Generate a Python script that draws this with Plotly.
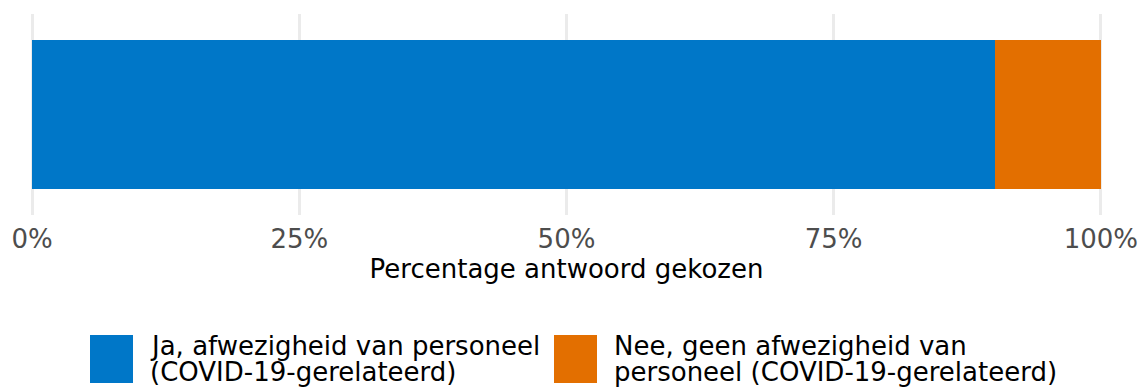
import plotly.graph_objects as go

categories = ["Afwezigheid personeel"]
series_names = ["Ja, afwezigheid van personeel",
                "Nee, geen afwezigheid van"]
series_names_line2 = ["(COVID-19-gerelateerd)",
                      "personeel (COVID-19-gerelateerd)"]
series_values = [[90.1], [9.9]]
series_colors = ["#0077C8", "#E36F00"]
tick_vals = [0, 25, 50, 75, 100]
tick_labels = ["0%", "25%", "50%", "75%", "100%"]
axis_title = "Percentage antwoord gekozen"

FONT = "Verdana, DejaVu Sans, sans-serif"
FS = 26

W, H = 1140, 388
PL, PR, PT, PB = 30, 1103, 14, 215  # plot area in pixels


def py(ypx):
    return (PB - ypx) / (PB - PT)


def px(xpx):
    return (xpx - PL) / (PR - PL)


fig = go.Figure()
for name, l2, vals, col in zip(series_names, series_names_line2, series_values, series_colors):
    fig.add_trace(go.Bar(
        y=categories, x=vals, orientation="h", name=name + " " + l2,
        marker=dict(color=col, line=dict(width=0)),
        width=0.746, showlegend=False,
        hovertemplate="%{x:.1f}%<extra></extra>",
    ))

fig.update_layout(
    barmode="stack",
    width=W, height=H,
    margin=dict(l=PL, r=W - PR, t=PT, b=H - PB, autoexpand=False),
    paper_bgcolor="white", plot_bgcolor="white",
    font=dict(family=FONT, size=FS, color="#000000"),
    xaxis=dict(
        range=[-0.2, 100.2], tickvals=tick_vals, ticktext=tick_labels,
        showgrid=True, gridcolor="#EBEBEB", gridwidth=3,
        zeroline=False, showline=False,
        ticks="outside", ticklen=1, tickcolor="rgba(0,0,0,0)",
        tickfont=dict(family=FONT, size=FS, color="#4D4D4D"),
        title=dict(text=axis_title, standoff=2,
                   font=dict(family=FONT, size=FS, color="#000000")),
        fixedrange=True, automargin=False,
    ),
    yaxis=dict(range=[-0.5, 0.5], showticklabels=False, showgrid=False,
               zeroline=False, fixedrange=True),
)

# custom legend (large square keys)
legend_x = [90, 554]
for i, col in enumerate(series_colors):
    fig.add_shape(type="rect", xref="paper", yref="paper",
                  x0=px(legend_x[i]), x1=px(legend_x[i] + 43),
                  y0=py(383), y1=py(335),
                  fillcolor=col, line=dict(width=0))
    for j, (txt, yc) in enumerate([(series_names[i], 346), (series_names_line2[i], 372)]):
        fig.add_annotation(xref="paper", yref="paper",
                           x=px(legend_x[i] + 59), y=py(yc),
                           xanchor="left", yanchor="middle", align="left",
                           text=txt, showarrow=False, borderpad=0,
                           font=dict(family=FONT, size=FS, color="#000000"))

fig.write_html("out.html", config={"displayModeBar": False},
               post_script="document.body.style.margin='0';document.body.style.overflow='hidden';")
